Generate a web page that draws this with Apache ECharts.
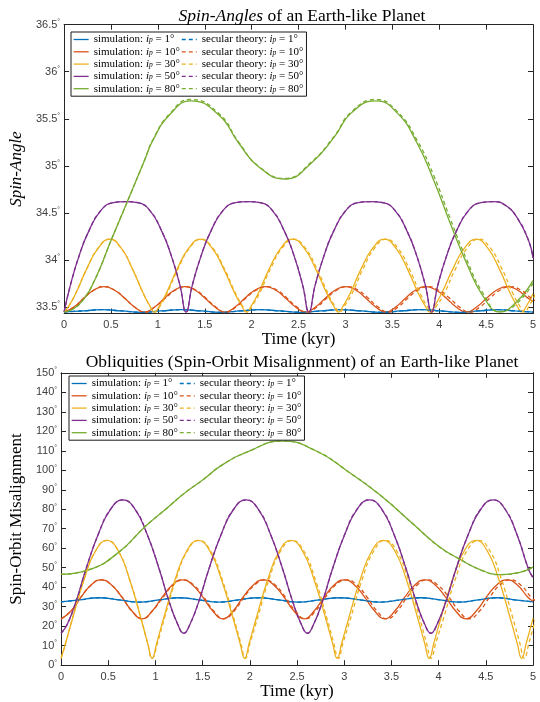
<!DOCTYPE html>
<html><head><meta charset="utf-8">
<script src="https://cdn.jsdelivr.net/npm/echarts/dist/echarts.min.js"></script>
<style>html,body{margin:0;padding:0;background:#fff}#c{width:540px;height:702px}</style>
</head><body><div id="c"></div>
<script>
// ---------- data (time in kyr) ----------
const inclinations = ['1','10','30','50','80'];
const spinTicks = [33.5,34,34.5,35,35.5,36,36.5];

// i_p = 1
const blT  = [0,0.2,0.4,0.615,0.83,1.04,1.25,1.46,1.67,1.88,2.09,2.305,2.52,2.735,2.95,3.165,3.38,3.595,3.81,4.015,4.22,4.42,4.62,4.81,5.0];
const blSp = [33.447,33.457,33.471,33.457,33.443,33.457,33.471,33.457,33.443,33.457,33.471,33.457,33.443,33.457,33.471,33.457,33.443,33.457,33.471,33.457,33.443,33.457,33.471,33.457,33.445];
const blOb = [32.5,33.5,34.6,33.5,32.4,33.5,34.6,33.5,32.4,33.5,34.6,33.5,32.4,33.5,34.6,33.5,32.4,33.5,34.6,33.5,32.4,33.5,34.6,33.5,32.5];

// i_p = 10
const orT   = [0,0.106,0.2125,0.319,0.425,0.534,0.643,0.751,0.86,0.966,1.073,1.179,1.285,1.393,1.5,1.608,1.715,1.823,1.93,2.038,2.145,2.253,2.36,2.468,2.575,2.681,2.788,2.894,3.0,3.108,3.215,3.323,3.43,3.536,3.643,3.749,3.855,3.964,4.073,4.181,4.29,4.399,4.508,4.616,4.725,4.834,4.943,5.0];
const orThT = [0,0.106,0.2125,0.319,0.425,0.534,0.643,0.751,0.86,0.966,1.083,1.189,1.295,1.403,1.51,1.618,1.725,1.833,1.94,2.053,2.16,2.268,2.375,2.483,2.59,2.696,2.803,2.909,3.025,3.133,3.24,3.348,3.455,3.561,3.668,3.774,3.88,3.989,4.108,4.216,4.325,4.434,4.543,4.651,4.76,4.869,4.978,5.035];
const orSp = [33.447,33.499,33.596,33.68,33.715,33.68,33.596,33.499,33.445,33.499,33.596,33.68,33.715,33.68,33.596,33.499,33.445,33.499,33.596,33.68,33.715,33.68,33.596,33.499,33.445,33.499,33.596,33.68,33.715,33.68,33.596,33.499,33.445,33.499,33.596,33.68,33.715,33.68,33.596,33.499,33.445,33.499,33.596,33.68,33.715,33.68,33.596,33.56];
const orOb = [23.8,27.8,35.0,41.2,43.8,41.2,35.0,27.8,23.8,27.8,35.0,41.2,43.8,41.2,35.0,27.8,23.8,27.8,35.0,41.2,43.8,41.2,35.0,27.8,23.8,27.8,35.0,41.2,43.8,41.2,35.0,27.8,23.8,27.8,35.0,41.2,43.8,41.2,35.0,27.8,23.8,27.8,35.0,41.2,43.8,41.2,35.0,32.8];

// i_p = 30
const ylT   = [0,0.049,0.122,0.244,0.365,0.487,0.607,0.726,0.846,0.917,0.965,1.014,1.087,1.209,1.331,1.453,1.576,1.699,1.822,1.896,1.945,1.994,2.068,2.19,2.313,2.435,2.558,2.68,2.803,2.876,2.925,2.974,3.048,3.17,3.293,3.415,3.536,3.658,3.779,3.852,3.9,3.95,4.024,4.148,4.271,4.395,4.516,4.638,4.759,4.832,4.88,4.929,5.0];
const ylThT = [0,0.049,0.122,0.244,0.365,0.487,0.607,0.726,0.846,0.917,0.965,1.022,1.095,1.217,1.339,1.461,1.584,1.707,1.83,1.904,1.953,2.002,2.081,2.203,2.326,2.448,2.571,2.693,2.816,2.889,2.938,2.987,3.068,3.19,3.313,3.435,3.556,3.678,3.799,3.872,3.92,3.97,4.052,4.176,4.299,4.423,4.544,4.666,4.787,4.86,4.908,4.957,5.028];
const ylSp = [33.447,33.507,33.639,33.91,34.127,34.22,34.127,33.91,33.639,33.507,33.445,33.507,33.639,33.91,34.127,34.22,34.127,33.91,33.639,33.507,33.445,33.507,33.639,33.91,34.127,34.22,34.127,33.91,33.639,33.507,33.445,33.507,33.639,33.91,34.127,34.22,34.127,33.91,33.639,33.507,33.445,33.507,33.639,33.91,34.127,34.22,34.127,33.91,33.639,33.507,33.445,33.507,33.64];
const ylOb = [3.5,11.4,24.1,44.0,58.6,64.0,58.6,44.0,24.1,11.4,3.5,11.4,24.1,44.0,58.6,64.0,58.6,44.0,24.1,11.4,3.5,11.4,24.1,44.0,58.6,64.0,58.6,44.0,24.1,11.4,3.5,11.4,24.1,44.0,58.6,64.0,58.6,44.0,24.1,11.4,3.5,11.4,24.1,44.0,58.6,64.0,58.6,44.0,24.1,11.4,3.5,11.4,24.0];

// i_p = 50
const puT  = [0,0.066,0.164,0.262,0.393,0.524,0.655,0.784,0.913,1.042,1.139,1.236,1.30,1.366,1.465,1.564,1.696,1.828,1.96,2.09,2.22,2.35,2.448,2.545,2.61,2.676,2.775,2.873,3.005,3.136,3.268,3.398,3.528,3.658,3.756,3.853,3.918,3.984,4.083,4.182,4.314,4.446,4.578,4.705,4.83,4.955,5.0];
const puSp = [33.447,33.727,34.056,34.303,34.526,34.608,34.62,34.608,34.526,34.303,34.056,33.727,33.445,33.727,34.056,34.303,34.526,34.608,34.62,34.608,34.526,34.303,34.056,33.727,33.445,33.727,34.056,34.303,34.526,34.608,34.62,34.608,34.526,34.303,34.056,33.727,33.445,33.727,34.056,34.303,34.526,34.608,34.62,34.58,34.45,34.2,34.02];
const puOb = [16.4,21.0,33.5,49.0,67.0,80.0,84.8,80.0,67.0,49.0,33.5,21.0,16.4,21.0,33.5,49.0,67.0,80.0,84.8,80.0,67.0,49.0,33.5,21.0,16.4,21.0,33.5,49.0,67.0,80.0,84.8,80.0,67.0,49.0,33.5,21.0,16.4,21.0,33.5,49.0,67.0,80.0,84.8,80.0,67.0,49.0,45.0];

// i_p = 80
const grSpT  = [0,0.08,0.185,0.326,0.502,0.678,0.858,0.946,1.123,1.351,1.65,1.863,2.074,2.355,2.637,2.884,3.06,3.324,3.554,3.765,3.94,4.117,4.294,4.47,4.646,4.82,5.0];
const grSp   = [33.447,33.47,33.553,33.784,34.21,34.628,35.06,35.27,35.54,35.69,35.54,35.24,34.99,34.86,35.03,35.31,35.56,35.69,35.56,35.24,34.85,34.39,33.96,33.61,33.447,33.55,33.78];
const grSpTh = [33.447,33.47,33.553,33.784,34.21,34.628,35.06,35.275,35.55,35.705,35.555,35.25,34.995,34.865,35.04,35.32,35.57,35.705,35.575,35.27,34.9,34.44,34.0,33.64,33.45,33.53,33.75];
const grObT  = [0,0.3,0.6,0.9,1.13,1.3,1.5,1.7,2.0,2.34,2.7,3.05,3.38,3.73,4.0,4.22,4.45,4.65,4.85,5.0];
const grOb   = [46.6,49.0,57.5,71.5,80.9,88.0,95.0,102.5,110.0,115.0,110.0,99.0,87.3,72.4,61.0,54.5,48.8,46.5,47.5,50.3];

// ---------- chart ----------
const colors = ['#0072BD','#D95319','#EDB120','#7E2F8E','#77AC30'];
const zip = (ts, vs) => ts.map((t, i) => [t, vs[i]]);
const SERIF = 'Liberation Serif';
const SANS = 'Liberation Sans';

const topSim = [zip(blT,blSp), zip(orT,orSp), zip(ylT,ylSp), zip(puT,puSp), zip(grSpT,grSp)];
const topSec = [zip(blT,blSp), zip(orThT,orSp), zip(ylThT,ylSp), zip(puT,puSp), zip(grSpT,grSpTh)];
const botSim = [zip(blT,blOb), zip(orT,orOb), zip(ylT,ylOb), zip(puT,puOb), zip(grObT,grOb)];
const botSec = [zip(blT,blOb), zip(orThT,orOb), zip(ylThT,ylOb), zip(puT,puOb), zip(grObT,grOb)];

function line(name, color, dashed, ai, data) {
  return {
    type: 'line', name, xAxisIndex: ai, yAxisIndex: ai, data,
    symbol: 'none', showSymbol: false, smooth: 0.5, silent: true,
    lineStyle: { color, width: 1.3, type: dashed ? [4, 3] : 'solid' },
    itemStyle: { color }, z: dashed ? 3 : 2
  };
}
const series = [];
inclinations.forEach((ip, k) => series.push(line('sim' + ip, colors[k], false, 0, topSim[k])));
inclinations.forEach((ip, k) => series.push(line('sec' + ip, colors[k], true, 0, topSec[k])));
inclinations.forEach((ip, k) => series.push(line('sim' + ip, colors[k], false, 2, botSim[k])));
inclinations.forEach((ip, k) => series.push(line('sec' + ip, colors[k], true, 2, botSec[k])));

const legendNames = inclinations.map(i => 'sim' + i).concat(inclinations.map(i => 'sec' + i));
const legText = n => {
  const ip = n.slice(3);
  const lab = n.startsWith('sim') ? 'simulation:' : 'secular theory:';
  return '{t|' + lab + ' }{i|i}{s|p}{t| = ' + ip + '°}';
};
const legRich = {
  t: { fontFamily: SERIF, fontSize: 11, color: '#000', lineHeight: 10 },
  i: { fontFamily: SERIF, fontSize: 11, fontStyle: 'italic', color: '#000', lineHeight: 10 },
  s: { fontFamily: SERIF, fontSize: 7.5, fontStyle: 'italic', color: '#000', lineHeight: 5, verticalAlign: 'bottom' }
};
function legend(top, left) {
  return {
    orient: 'vertical', left, top, height: 64, data: legendNames,
    itemStyle: { color: 'rgba(0,0,0,0)', borderColor: 'rgba(0,0,0,0)', borderWidth: 0, opacity: 0 },
    lineStyle: { width: 1.3 },
    itemWidth: 15, itemHeight: 10, itemGap: 1.3, formatter: legText,
    textStyle: { rich: legRich }, backgroundColor: '#fff',
    borderColor: '#1a1a1a', borderWidth: 1, padding: [2, 3, 2, 2], selectedMode: false
  };
}
const axCol = '#262626';
const lblRich = {
  a: { fontFamily: SANS, fontSize: 11, color: '#404040', lineHeight: 12 },
  b: { fontFamily: SANS, fontSize: 7, color: '#404040', lineHeight: 6, verticalAlign: 'top' }
};
const degFmt = v => '{a|' + v + '}{b|°}';

function xAx(gi, pos, showLbl) {
  return {
    type: 'value', gridIndex: gi, position: pos, min: 0, max: 5, interval: 0.5,
    name: showLbl ? 'Time (kyr)' : '', nameLocation: 'middle', nameGap: 18,
    nameTextStyle: { fontFamily: SERIF, fontSize: 17, color: '#000' },
    axisLine: { show: true, onZero: false, lineStyle: { color: axCol, width: 1 } },
    axisTick: { show: true, inside: true, length: 5, lineStyle: { color: axCol } },
    axisLabel: { show: showLbl, margin: 6, fontFamily: SANS, fontSize: 11, color: '#404040' },
    splitLine: { show: false }
  };
}
function yAxSpin(pos, showLbl) {
  return {
    type: 'value', gridIndex: 0, position: pos, min: 33.43, max: 36.5,
    name: showLbl ? 'Spin-Angle' : '', nameLocation: 'middle', nameGap: 31,
    nameTextStyle: { fontFamily: SERIF, fontSize: 17, fontStyle: 'italic', color: '#000' },
    axisLine: { show: true, onZero: false, lineStyle: { color: axCol, width: 1 } },
    axisTick: { show: true, inside: true, length: 5, customValues: spinTicks, lineStyle: { color: axCol } },
    axisLabel: { show: showLbl, margin: 4, customValues: spinTicks, formatter: degFmt, rich: lblRich },
    splitLine: { show: false }
  };
}
function yAxObl(pos, showLbl) {
  return {
    type: 'value', gridIndex: 1, position: pos, min: 0, max: 150, interval: 10,
    name: showLbl ? 'Spin-Orbit Misalignment' : '', nameLocation: 'middle', nameGap: 32,
    nameTextStyle: { fontFamily: SERIF, fontSize: 17, color: '#000' },
    axisLine: { show: true, onZero: false, lineStyle: { color: axCol, width: 1 } },
    axisTick: { show: true, inside: true, length: 5, lineStyle: { color: axCol } },
    axisLabel: { show: showLbl, margin: 4, formatter: degFmt, rich: lblRich },
    splitLine: { show: false }
  };
}

const chart = echarts.init(document.getElementById('c'), null, { renderer: 'canvas' });
chart.setOption({
  animation: false,
  backgroundColor: '#fff',
  title: [
    { text: '{it|Spin-Angles}{n| of an Earth-like Planet}', left: 297, top: 2, textAlign: 'center',
      textStyle: { fontWeight: 'normal', rich: {
        it: { fontFamily: SERIF, fontSize: 17.5, fontStyle: 'italic', fontWeight: 'normal', color: '#000' },
        n: { fontFamily: SERIF, fontSize: 17.5, fontWeight: 'normal', color: '#000' } } } },
    { text: 'Obliquities (Spin-Orbit Misalignment) of an Earth-like Planet', left: 297, top: 348, textAlign: 'center',
      textStyle: { fontFamily: SERIF, fontSize: 17.5, fontWeight: 'normal', color: '#000' } }
  ],
  legend: [legend(32, 71), legend(376, 69)],
  grid: [
    { left: 61, top: 24.7, width: 472, height: 288.8, containLabel: false },
    { left: 61, top: 372.8, width: 472, height: 292.4, containLabel: false }
  ],
  xAxis: [xAx(0, 'bottom', true), xAx(0, 'top', false), xAx(1, 'bottom', true), xAx(1, 'top', false)],
  yAxis: [yAxSpin('left', true), yAxSpin('right', false), yAxObl('left', true), yAxObl('right', false)],
  series
});
</script></body></html>
